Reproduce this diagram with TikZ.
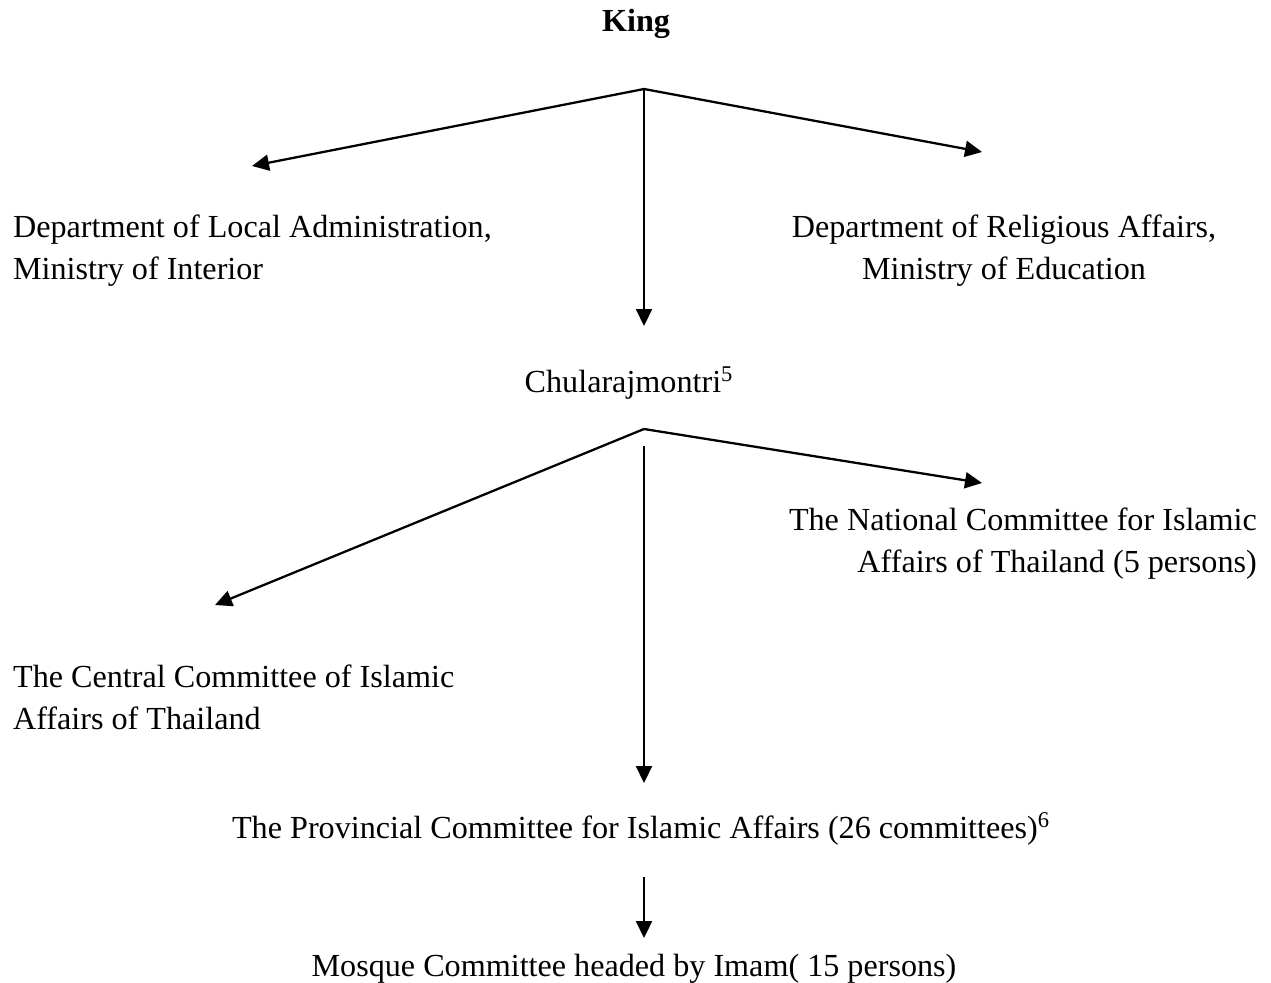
\documentclass[tikz,border=0pt]{standalone}
\usepackage{fontspec}
\setmainfont{Liberation Serif}
\usetikzlibrary{arrows.meta}
\begin{document}
\begin{tikzpicture}[x=0.02cm,y=-0.02cm,line width=1.3pt,
    lbl/.style={font=\fontsize{18.3}{23.8}\selectfont,inner sep=0pt},
    >={Triangle[length=3.4mm,width=3.2mm]}]
\useasboundingbox (0,0) rectangle (1271,983);
% labels
\node [lbl] (king) at (636,24) {\bfseries King};
\node [lbl,anchor=west,align=left] (dla) at (12,251) {Department of Local Administration,\\Ministry of Interior};
\node [lbl,align=center] (dra) at (1004,251) {Department of Religious Affairs,\\Ministry of Education};
\node [lbl] (chula) at (629,383) {Chularajmontri\textsuperscript{5}};
\node [lbl,anchor=east,align=right] (ncia) at (1258,544) {The National Committee for Islamic\\Affairs of Thailand (5 persons)};
\node [lbl,anchor=west,align=left] (ccia) at (12,697) {The Central Committee of Islamic\\Affairs of Thailand};
\node [lbl] (pcia) at (641,829) {The Provincial Committee for Islamic Affairs (26 committees)\textsuperscript{6}};
\node [lbl] (mosque) at (634,969) {Mosque Committee headed by Imam( 15 persons)};
% branch points and arrow ends
\coordinate (kingfork) at (644,89);
\coordinate (dlaend) at (252,166);
\coordinate (draend) at (982,152);
\coordinate (chulaend) at (644,326);
\coordinate (chulafork) at (644,429);
\coordinate (cciaend) at (215,605);
\coordinate (nciaend) at (982,483);
\coordinate (pciastart) at (644,446);
\coordinate (pciaend) at (644,783);
\coordinate (mosquestart) at (644,877);
\coordinate (mosqueend) at (644,938);
% arrows
\draw [->] (kingfork) -- (dlaend);
\draw [->] (kingfork) -- (draend);
\draw [->] (kingfork) -- (chulaend);
\draw [->] (chulafork) -- (cciaend);
\draw [->] (chulafork) -- (nciaend);
\draw [->] (pciastart) -- (pciaend);
\draw [->] (mosquestart) -- (mosqueend);
\end{tikzpicture}
\end{document}
